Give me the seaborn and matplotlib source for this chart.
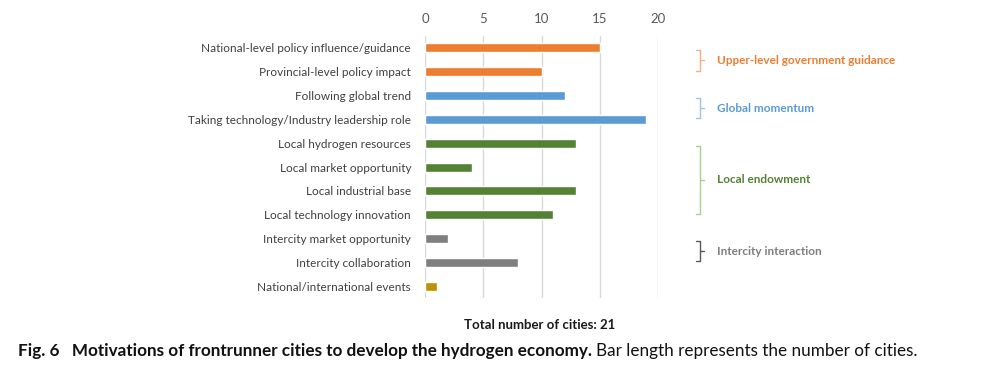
import matplotlib
matplotlib.use("Agg")
import matplotlib.pyplot as plt
import matplotlib.transforms as mtransforms
import seaborn as sns
import pandas as pd

motivations = [
    "National-level policy influence/guidance",
    "Provincial-level policy impact",
    "Following global trend",
    "Taking technology/Industry leadership role",
    "Local hydrogen resources",
    "Local market opportunity",
    "Local industrial base",
    "Local technology innovation",
    "Intercity market opportunity",
    "Intercity collaboration",
    "National/international events",
]
cities = [15, 10, 12, 19, 13, 4, 13, 11, 2, 8, 1]
groups = ["gov", "gov", "glob", "glob", "local", "local", "local", "local",
          "inter", "inter", "events"]

group_colors = {
    "gov": "#ED7D31",
    "glob": "#5B9BD5",
    "local": "#548235",
    "inter": "#7F7F7F",
    "events": "#BF9000",
}
group_labels = [
    ("gov", "Upper-level government guidance", 0, 1),
    ("glob", "Global momentum", 2, 3),
    ("local", "Local endowment", 4, 7),
    ("inter", "Intercity interaction", 8, 9),
]
bracket_colors = {"gov": "#F4B183", "glob": "#9DC3E6", "local": "#A9D18E", "inter": "#595959"}
label_colors = {"gov": "#ED7D31", "glob": "#5B9BD5", "local": "#548235", "inter": "#7F7F7F"}

df = pd.DataFrame({"motivation": motivations, "cities": cities, "group": groups})

sns.set_style("white")
plt.rcParams["font.family"] = ["Lato", "DejaVu Sans"]

fig = plt.figure(figsize=(10, 3.68), dpi=100)
ax = fig.add_axes([0.425, 0.19, 0.233, 0.712])

sns.barplot(data=df, x="cities", y="motivation", hue="group",
            palette=group_colors, dodge=False, width=0.38, saturation=1,
            legend=False, ax=ax, orient="h")

ax.set_xlim(0, 20)
ax.set_ylim(10.5, -0.5)
ax.set_xticks([0, 5, 10, 15, 20])
ax.xaxis.tick_top()
ax.tick_params(axis="x", length=0, labelsize=9.5, labelcolor="#595959", pad=8)
ax.tick_params(axis="y", length=0, labelsize=8.5, labelcolor="#404040", pad=10)
ax.grid(axis="x", color="#D9D9D9", linewidth=1)
ax.set_axisbelow(True)
for s in ax.spines.values():
    s.set_visible(False)
ax.set_xlabel("")
ax.set_ylabel("")

# group brackets to the right of the plot
trans = mtransforms.blended_transform_factory(fig.transFigure, ax.transData)
xb = 0.700
hook = 0.004
for key, text, i0, i1 in group_labels:
    y0, y1 = i0 + 0.1, i1 - 0.05
    ym = (y0 + y1) / 2
    c = bracket_colors[key]
    ax.plot([xb - hook, xb, xb, xb - hook], [y0, y0, y1, y1], color=c,
            lw=1, transform=trans, clip_on=False)
    ax.plot([xb, xb + hook], [ym, ym], color=c, lw=1, transform=trans, clip_on=False)
    ax.text(0.717, ym, text, transform=trans, color=label_colors[key],
            fontsize=8.5, fontweight="bold", va="center", ha="left")

fig.text(0.54, 0.118, "Total number of cities: 21", ha="center", va="center",
         fontsize=9.5, fontweight="bold", color="#1a1a1a")

renderer = fig.canvas.get_renderer()
cap_size = 13
cap_bold = fig.text(0.018, 0.045, "Fig. 6   Motivations of frontrunner cities to develop the hydrogen economy.",
                    ha="left", va="center", fontsize=cap_size, fontweight="bold", color="#111111")
bb = cap_bold.get_window_extent(renderer).transformed(fig.transFigure.inverted())
cap_reg = fig.text(bb.x1 + 0.004, 0.045, "Bar length represents the number of cities.",
                   ha="left", va="center", fontsize=cap_size, color="#111111")
# shrink the caption to span roughly the same width as the original
end = cap_reg.get_window_extent(renderer).transformed(fig.transFigure.inverted()).x1
scale = min(1.0, (0.915 - 0.018) / (end - 0.018))
cap_bold.set_fontsize(cap_size * scale)
cap_reg.set_fontsize(cap_size * scale)
bb = cap_bold.get_window_extent(renderer).transformed(fig.transFigure.inverted())
cap_reg.set_x(bb.x1 + 0.004)

fig.savefig("out.png", dpi=100)
